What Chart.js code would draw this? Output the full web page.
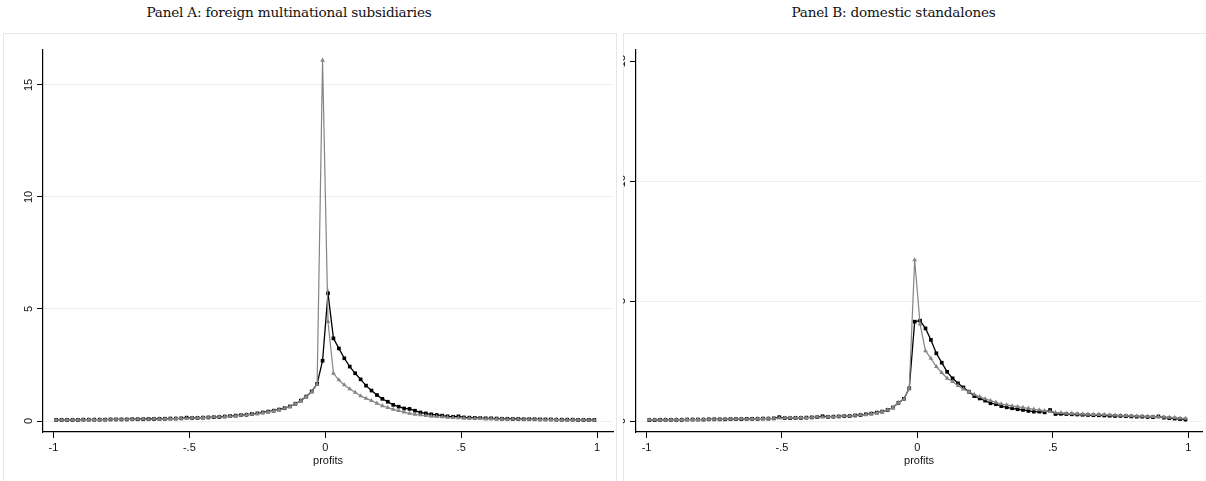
<!DOCTYPE html>
<html>
<head>
<meta charset="utf-8">
<script src="https://cdn.jsdelivr.net/npm/chart.js@4/dist/chart.umd.min.js"></script>
<style>
  html, body { margin:0; padding:0; background:#fff; }
  body { width:1206px; height:481px; position:relative; overflow:hidden; }
  .title { position:absolute; top:4px; font-family:"DejaVu Serif", serif; font-size:13.6px; color:#111; text-align:center; white-space:nowrap; letter-spacing:-0.2px; }
  .frame { position:absolute; border:1px solid #e2eaea; box-sizing:border-box; }
  canvas { position:absolute; }
</style>
</head>
<body>
<div class="title" style="left:-18px; width:614px;">Panel A: foreign multinational subsidiaries</div>
<div class="title" style="left:602px; width:583px;">Panel B: domestic standalones</div>
<div class="frame" style="left:3px; top:33px; width:614px; height:460px;"></div>
<div class="frame" style="left:623px; top:33px; width:600px; height:460px;"></div>
<canvas id="cA" width="614" height="448" style="left:3px; top:33px;"></canvas>
<canvas id="cB" width="583" height="448" style="left:623px; top:33px;"></canvas>
<script>
// ---- data (bin centres of profits) ----
const xs = [-0.99,-0.97,-0.95,-0.93,-0.91,-0.89,-0.87,-0.85,-0.83,-0.81,
  -0.79,-0.77,-0.75,-0.73,-0.71,-0.69,-0.67,-0.65,-0.63,-0.61,
  -0.59,-0.57,-0.55,-0.53,-0.51,-0.49,-0.47,-0.45,-0.43,-0.41,
  -0.39,-0.37,-0.35,-0.33,-0.31,-0.29,-0.27,-0.25,-0.23,-0.21,
  -0.19,-0.17,-0.15,-0.13,-0.11,-0.09,-0.07,-0.05,-0.03,-0.01,
  0.01,0.03,0.05,0.07,0.09,0.11,0.13,0.15,0.17,0.19,
  0.21,0.23,0.25,0.27,0.29,0.31,0.33,0.35,0.37,0.39,
  0.41,0.43,0.45,0.47,0.49,0.51,0.53,0.55,0.57,0.59,
  0.61,0.63,0.65,0.67,0.69,0.71,0.73,0.75,0.77,0.79,
  0.81,0.83,0.85,0.87,0.89,0.91,0.93,0.95,0.97,0.99];

// Panel A
const aBlack = [0.05,0.05,0.05,0.05,0.05,0.06,0.06,0.06,0.06,0.06,
  0.07,0.07,0.07,0.07,0.08,0.08,0.08,0.09,0.09,0.10,
  0.10,0.11,0.11,0.12,0.15,0.13,0.14,0.15,0.16,0.17,
  0.18,0.20,0.22,0.24,0.26,0.28,0.31,0.34,0.38,0.42,
  0.46,0.51,0.57,0.65,0.77,0.91,1.09,1.32,1.66,2.69,
  5.70,3.69,3.24,2.80,2.43,2.13,1.86,1.58,1.36,1.16,
  0.99,0.86,0.72,0.64,0.56,0.54,0.46,0.38,0.34,0.30,
  0.27,0.24,0.21,0.19,0.21,0.16,0.15,0.14,0.13,0.12,
  0.12,0.11,0.10,0.10,0.09,0.09,0.08,0.08,0.08,0.07,
  0.07,0.07,0.06,0.06,0.06,0.06,0.05,0.05,0.05,0.05];
const aGray = [0.05,0.05,0.05,0.05,0.05,0.05,0.06,0.06,0.06,0.06,
  0.07,0.07,0.07,0.07,0.07,0.08,0.08,0.08,0.09,0.09,
  0.10,0.10,0.11,0.12,0.12,0.13,0.14,0.15,0.16,0.17,
  0.18,0.19,0.21,0.23,0.25,0.28,0.30,0.33,0.37,0.41,
  0.45,0.50,0.56,0.64,0.76,0.90,1.08,1.30,1.64,16.1,
  4.43,2.13,1.83,1.61,1.43,1.28,1.12,1.01,0.91,0.79,
  0.68,0.60,0.52,0.46,0.40,0.34,0.30,0.27,0.24,0.21,
  0.19,0.18,0.16,0.15,0.14,0.13,0.12,0.12,0.11,0.10,
  0.10,0.09,0.09,0.08,0.08,0.08,0.07,0.07,0.07,0.06,
  0.06,0.06,0.06,0.05,0.05,0.05,0.05,0.05,0.04,0.04];

// Panel B
const bBlack = [0.04,0.04,0.05,0.05,0.05,0.05,0.05,0.06,0.06,0.06,
  0.06,0.07,0.07,0.07,0.07,0.08,0.08,0.08,0.09,0.09,
  0.09,0.10,0.10,0.11,0.16,0.12,0.12,0.13,0.13,0.14,
  0.15,0.16,0.20,0.17,0.18,0.19,0.20,0.21,0.23,0.25,
  0.28,0.31,0.35,0.39,0.46,0.56,0.76,0.92,1.36,4.14,
  4.18,3.86,3.38,2.82,2.43,2.05,1.78,1.57,1.40,1.22,
  1.04,0.94,0.85,0.74,0.70,0.62,0.57,0.53,0.49,0.46,
  0.42,0.39,0.39,0.36,0.46,0.29,0.30,0.29,0.28,0.27,
  0.26,0.25,0.24,0.24,0.23,0.22,0.21,0.21,0.20,0.19,
  0.18,0.18,0.17,0.16,0.19,0.14,0.12,0.10,0.08,0.06];
const bGray = [0.05,0.05,0.05,0.05,0.05,0.06,0.06,0.06,0.06,0.06,
  0.07,0.07,0.07,0.07,0.08,0.08,0.08,0.09,0.09,0.09,
  0.10,0.10,0.11,0.11,0.12,0.12,0.13,0.13,0.14,0.14,
  0.15,0.16,0.16,0.17,0.18,0.19,0.20,0.21,0.23,0.25,
  0.27,0.30,0.34,0.39,0.46,0.56,0.76,0.90,1.36,6.71,
  4.04,2.92,2.61,2.26,2.01,1.78,1.64,1.47,1.33,1.22,
  1.11,1.01,0.92,0.85,0.78,0.71,0.67,0.63,0.60,0.56,
  0.53,0.49,0.46,0.43,0.39,0.36,0.35,0.32,0.31,0.30,
  0.29,0.28,0.27,0.27,0.26,0.25,0.24,0.23,0.22,0.21,
  0.20,0.20,0.19,0.18,0.17,0.16,0.15,0.14,0.12,0.11];

// ticks
const xTickVals = [-1, -0.5, 0, 0.5, 1];
const xTickLabels = ['-1', '-.5', '0', '.5', '1'];
const yTickVals = [0, 5, 10, 15];
const yTickLabels = ['0', '5', '10', '15'];

const GRID = '#e8f0f1';
const GRAY = '#858585';
const tickFont = { family: '"Liberation Sans", Arial, sans-serif', size: 11 };

function pts(vals) { return xs.map((x, i) => ({ x: x, y: vals[i] })); }

function makeChart(id, black, gray, cfg) {
  return new Chart(document.getElementById(id), {
    type: 'line',
    data: {
      datasets: [
        { data: pts(gray), borderColor: GRAY, backgroundColor: GRAY, borderWidth: 1.2,
          pointStyle: 'triangle', pointRadius: 2.7, pointBorderWidth: 0, tension: 0 },
        { data: pts(black), borderColor: '#000', backgroundColor: '#000', borderWidth: 1.3,
          pointStyle: 'rect', pointRadius: 2.6, pointBorderWidth: 0, tension: 0 }
      ]
    },
    options: {
      responsive: false, animation: false, devicePixelRatio: 1,
      layout: { padding: { left: 0, right: cfg.padRight, top: 17, bottom: 0 } },
      plugins: { legend: { display: false }, tooltip: { enabled: false } },
      scales: {
        x: {
          type: 'linear', min: cfg.xMin, max: cfg.xMax,
          afterBuildTicks: s => { s.ticks = xTickVals.map(v => ({ value: v })); },
          afterFit: s => { s.height = 49; },
          ticks: { font: tickFont, color: '#111', padding: 3, maxRotation: 0,
                   callback: (v) => xTickLabels[xTickVals.indexOf(v)] },
          grid: { display: true, drawOnChartArea: false, drawTicks: true, tickLength: 6, tickColor: '#000', tickWidth: 1 },
          border: { display: true, color: '#000', width: 1.2 },
          title: { display: true, text: 'profits', font: tickFont, color: '#111', padding: { top: 0, bottom: 13 } }
        },
        y: {
          type: 'linear', min: cfg.yMin, max: cfg.yMax,
          afterBuildTicks: s => { s.ticks = yTickVals.map(v => ({ value: v })); },
          afterFit: s => { s.width = cfg.yWidth; },
          ticks: { font: tickFont, color: '#111', padding: 2, minRotation: 90, maxRotation: 90, crossAlign: 'center',
                   callback: (v) => yTickLabels[yTickVals.indexOf(v)] },
          grid: { display: true, drawOnChartArea: true, drawTicks: true, tickLength: 6, tickColor: '#000', tickWidth: 1,
                  color: (c) => (cfg.hideTopGrid && c.tick && c.tick.value === 15) ? 'rgba(0,0,0,0)' : GRID, lineWidth: 1 },
          border: { display: true, color: '#000', width: 1.2 }
        }
      }
    }
  });
}

makeChart('cA', aBlack, aGray, { xMin: -1.0385, xMax: 1.0585, yMin: -0.49, yMax: 16.56, yWidth: 40, padRight: 1, hideTopGrid: false });
makeChart('cB', bBlack, bGray, { xMin: -1.039, xMax: 1.051, yMin: -0.458, yMax: 15.46, yWidth: 13, padRight: 0, hideTopGrid: true });
</script>
</body>
</html>
